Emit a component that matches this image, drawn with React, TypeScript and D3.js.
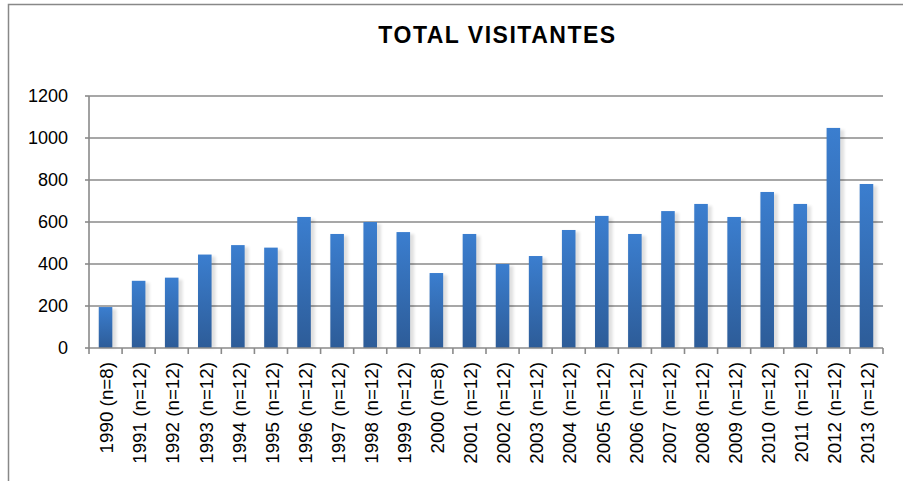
import React from "react";
import * as d3 from "d3";

const categories = ["1990 (n=8)","1991 (n=12)","1992 (n=12)","1993 (n=12)","1994 (n=12)","1995 (n=12)","1996 (n=12)","1997 (n=12)","1998 (n=12)","1999 (n=12)","2000 (n=8)","2001 (n=12)","2002 (n=12)","2003 (n=12)","2004 (n=12)","2005 (n=12)","2006 (n=12)","2007 (n=12)","2008 (n=12)","2009 (n=12)","2010 (n=12)","2011 (n=12)","2012 (n=12)","2013 (n=12)"];
const visitors = [195,320,335,445,490,478,624,543,600,552,357,543,400,438,562,629,543,652,686,624,743,686,1048,781];
const yTicks = [0,200,400,600,800,1000,1200];
const title = "TOTAL VISITANTES";

const W = 903, H = 481;
const left = 89, right = 883, top = 96, bottom = 348;
const font = "'Liberation Sans', Arial, sans-serif";

export default function App() {
  const x = d3.scaleBand<string>().domain(categories).range([left, right]).paddingInner(0.59).paddingOuter(0.295);
  const y = d3.scaleLinear().domain([0, 1200]).range([bottom, top]);
  const step = x.step();
  const bounds = d3.range(categories.length + 1).map(i => left + i * step);
  return (
    <svg width={W} height={H} style={{ position: "absolute", left: 0, top: 0, background: "#fff" }}>
      <defs>
        <linearGradient id="barGrad" x1="0" y1="0" x2="0" y2="1">
          <stop offset="0%" stopColor="#3b7ecf" />
          <stop offset="100%" stopColor="#2d5c98" />
        </linearGradient>
        <filter id="shadow" x="-50%" y="-10%" width="200%" height="120%">
          <feGaussianBlur stdDeviation="1.5" />
        </filter>
      </defs>
      <rect x={8.5} y={4.5} width={1200} height={1200} fill="#fff" stroke="#888" strokeWidth={1.5} />
      <text x={497.5} y={43} textAnchor="middle" fontFamily={font} fontWeight="bold" fontSize={23} letterSpacing={1.5} fill="#000">{title}</text>
      {yTicks.map(t => (
        <g key={t}>
          {t > 0 && <line x1={left} x2={right} y1={y(t)} y2={y(t)} stroke="#8a8a8a" strokeWidth={1.6} />}
          <line x1={left - 4} x2={left} y1={y(t)} y2={y(t)} stroke="#8a8a8a" strokeWidth={1.6} />
          <text x={68} y={y(t)} dy="0.36em" textAnchor="end" fontFamily={font} fontSize={18} fill="#000">{t}</text>
        </g>
      ))}
      {categories.map((c, i) => (
        <g key={c}>
          <rect x={(x(c) as number) + 1} y={y(visitors[i]) + 2} width={x.bandwidth() + 3} height={bottom - y(visitors[i]) - 2} fill="#000" opacity={0.12} filter="url(#shadow)" />
          <rect x={x(c)} y={y(visitors[i])} width={x.bandwidth()} height={bottom - y(visitors[i])} fill="url(#barGrad)" />
        </g>
      ))}
      <line x1={left} x2={left} y1={top} y2={bottom} stroke="#8a8a8a" strokeWidth={1.6} />
      <line x1={left} x2={right} y1={bottom} y2={bottom} stroke="#8a8a8a" strokeWidth={1.6} />
      {bounds.map((b, i) => (
        <line key={i} x1={b} x2={b} y1={bottom} y2={bottom + 6} stroke="#8a8a8a" strokeWidth={1.6} />
      ))}
      {categories.map(c => {
        const cx = (x(c) as number) + x.bandwidth() / 2 + 1;
        return (
          <text key={c} transform={`translate(${cx},362) rotate(-90)`} dy="0.36em" textAnchor="end" fontFamily={font} fontSize={18.8} fill="#000">{c}</text>
        );
      })}
    </svg>
  );
}
